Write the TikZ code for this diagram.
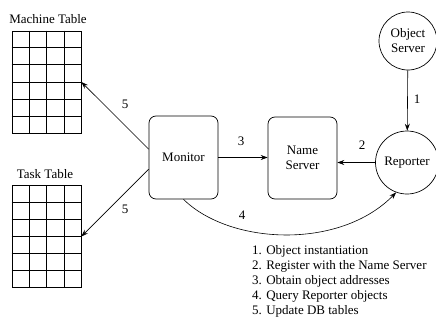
\documentclass[tikz,border=0pt]{standalone}
\usepackage{fontspec}
\setmainfont{Liberation Serif}
\usetikzlibrary{arrows.meta,calc}

\begin{document}
\begin{tikzpicture}[
        x=1pt, y=-1pt,
        every node/.style={font=\fontsize{13}{15}\selectfont},
        flow/.style={-{Stealth[length=7pt,width=5pt,inset=2.5pt]}, line width=0.6pt},
        proc/.style={rectangle, rounded corners=7pt, draw, line width=0.7pt, minimum width=69pt, inner sep=0pt},
        srv/.style={circle, draw, line width=0.7pt, inner sep=0pt, align=center},
        dbtable/.style={rectangle, draw, line width=0.8pt, minimum width=69pt, minimum height=102pt, inner sep=0pt}
    ]
    \useasboundingbox (0,0) rectangle (436,324);

    % the two tables, 4 columns by 6 rows
    \node[dbtable] (mtab) at (46.5, 82) {};
    \node[dbtable] (ttab) at (46.5, 236.5) {};
    \foreach \t in {mtab, ttab} {
        \foreach \i in {1,2,3}
            \draw[line width=0.8pt] ($(\t.north west)!\i/4!(\t.north east)$) -- ($(\t.south west)!\i/4!(\t.south east)$);
        \foreach \j in {1,...,5}
            \draw[line width=0.8pt] ($(\t.north west)!\j/6!(\t.south west)$) -- ($(\t.north east)!\j/6!(\t.south east)$);
    }
    \node (mlabel) at (48, 19) {Machine Table};
    \node (tlabel) at (45, 174) {Task Table};

    % processes
    \node[proc, minimum height=83pt] (mon) at (183.5, 157.5) {Monitor};
    \node[proc, minimum height=82pt, align=center] (ns) at (302.5, 158) {Name\\Server};
    \node[srv, minimum size=58pt] (obj) at (408, 41) {Object\\Server};
    \node[srv, minimum size=63pt] (rep) at (407, 162.5) {Reporter};

    \draw[flow] (obj) -- (rep);
    \draw[flow] (rep.west) -- (ns.east |- rep.west);
    \draw[flow] (mon.east) -- (ns.west |- mon.east);
    \draw[flow] (mon.south) .. controls (230,245) and (340,250) .. (rep.250);
    \draw[flow] ($(mon.north west)!0.4!(mon.south west)$) -- (mtab.east);
    \draw[flow] ($(mon.north west)!0.64!(mon.south west)$) -- (ttab.east);

    \node (l1) at (417, 99) {1};
    \node (l2) at (362, 145) {2};
    \node (l3) at (241, 141) {3};
    \node (l4) at (242, 215) {4};
    \node (l5a) at (125, 104) {5};
    \node (l5b) at (125, 209) {5};

    \node[anchor=north west, align=left, inner sep=0pt] (steps) at (252, 245) {%
        1. Object instantiation\\
        2. Register with the Name Server\\
        3. Obtain object addresses\\
        4. Query Reporter objects\\
        5. Update DB tables};
\end{tikzpicture}
\end{document}
